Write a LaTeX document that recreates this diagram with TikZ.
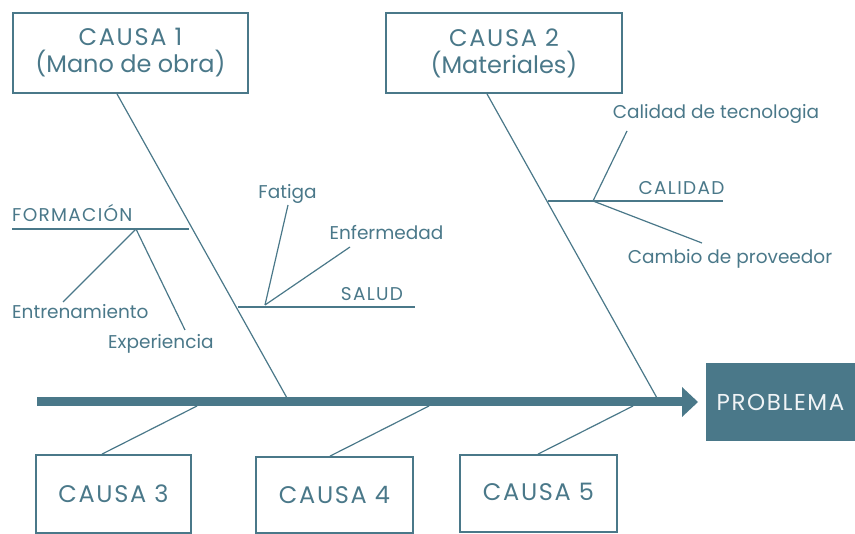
\documentclass[tikz,border=0pt]{standalone}
\usepackage{fontspec}
\setmainfont{Poppins}
\newfontfamily\capsfont[LetterSpace=7]{Poppins}
\newfontfamily\capsfontS[LetterSpace=7]{Poppins}
\usetikzlibrary{arrows.meta,calc}
\definecolor{teal}{HTML}{4A7889}
\begin{document}
\begin{tikzpicture}[x=1pt,y=-1pt,
  every node/.style={text=teal},
  cbox/.style={draw=teal,line width=1.8pt,inner sep=0pt,align=center,font=\fontsize{24}{27}\selectfont},
  lbl/.style={inner sep=0pt,font=\fontsize{18.5}{20}\selectfont},
  clbl/.style={inner sep=0pt,font=\fontsize{18.5}{20}\capsfontS},
  thin/.style={draw=teal,line width=1.2pt}]
\useasboundingbox (0,0) rectangle (855,534);
% boxes
\node[cbox,minimum width=235pt,minimum height=80pt] (c1) at (130.5,53) {{\capsfont CAUSA 1}\\(Mano de obra)};
\node[cbox,minimum width=236pt,minimum height=80pt] (c2) at (504,53) {{\capsfont CAUSA 2}\\(Materiales)};
\node[cbox,minimum width=155pt,minimum height=78pt,font=\fontsize{24}{27}\capsfont] (c3) at (113.5,494) {CAUSA 3};
\node[cbox,minimum width=157pt,minimum height=76pt,font=\fontsize{24}{27}\capsfont] (c4) at (334.5,495) {CAUSA 4};
\node[cbox,minimum width=157pt,minimum height=77pt,font=\fontsize{24}{27}\capsfont] (c5) at (538.5,493.5) {\raisebox{3pt}{CAUSA 5}};
\node[fill=teal,text=white!92!teal,inner sep=0pt,minimum width=149pt,minimum height=78pt,font=\fontsize{23}{25}\capsfont] (pb) at (780.5,402) {PROBLEMA};
% spine
\coordinate (sL) at (37,402);
\coordinate (sR) at (682,402);
\draw[teal,line width=9pt] (sL) -- (sR);
\fill[teal] (sR) ++(0,-15) -- ++(16,15) -- ++(-16,15) -- cycle;
% spine junctions
\coordinate (j1) at (287,398);
\coordinate (j2) at (657,398);
\coordinate (j3) at (197,406);
\coordinate (j4) at (429,406);
\coordinate (j5) at (633,406);
\draw[thin] ([xshift=-13.5pt]c1.south) -- (j1);
\draw[thin] ([xshift=-17pt]c2.south) -- (j2);
\draw[thin] ([xshift=-11.5pt]c3.north) -- (j3);
\draw[thin] ([xshift=-4.5pt]c4.north) -- (j4);
\draw[thin] ([xshift=-0.5pt]c5.north) -- (j5);
% FORMACION branch
\node[clbl,anchor=west] (form) at (12,213) {FORMACIÓN};
\coordinate (fL) at (12,229);
\coordinate (fR) at (189,229);
\coordinate (fJ) at (136,229);
\draw[thin] (fL) -- (fR);
\node[lbl,anchor=west] (entr) at (12,312) {Entrenamiento};
\node[lbl,anchor=west] (expe) at (108,344) {Experiencia};
\coordinate (entrE) at (63,302);
\coordinate (expeE) at (185,330);
\draw[thin] (fJ) -- (entrE);
\draw[thin] (fJ) -- (expeE);
% SALUD branch
\coordinate (sdL) at (238,307);
\coordinate (sdR) at (415,307);
\coordinate (sdJ) at (265,305);
\draw[thin] (sdL) -- (sdR);
\node[clbl] (salud) at (372,294) {SALUD};
\node[lbl] (fati) at (287.5,194) {Fatiga};
\node[lbl] (enfe) at (386.5,233) {Enfermedad};
\coordinate (fatiE) at (288,205);
\coordinate (enfeE) at (350,247);
\draw[thin] (sdJ) -- (fatiE);
\draw[thin] (sdJ) -- (enfeE);
% CALIDAD branch
\coordinate (caL) at (548,201);
\coordinate (caR) at (723,201);
\coordinate (caJ) at (593,201);
\draw[thin] (caL) -- (caR);
\node[clbl] (cali) at (681.5,188) {CALIDAD};
\node[lbl] (tecn) at (716,114) {Calidad de tecnologia};
\node[lbl] (camb) at (730,259) {Cambio de proveedor};
\coordinate (tecnE) at (627,131);
\coordinate (cambE) at (702,243);
\draw[thin] (caJ) -- (tecnE);
\draw[thin] (caJ) -- (cambE);
\end{tikzpicture}
\end{document}
